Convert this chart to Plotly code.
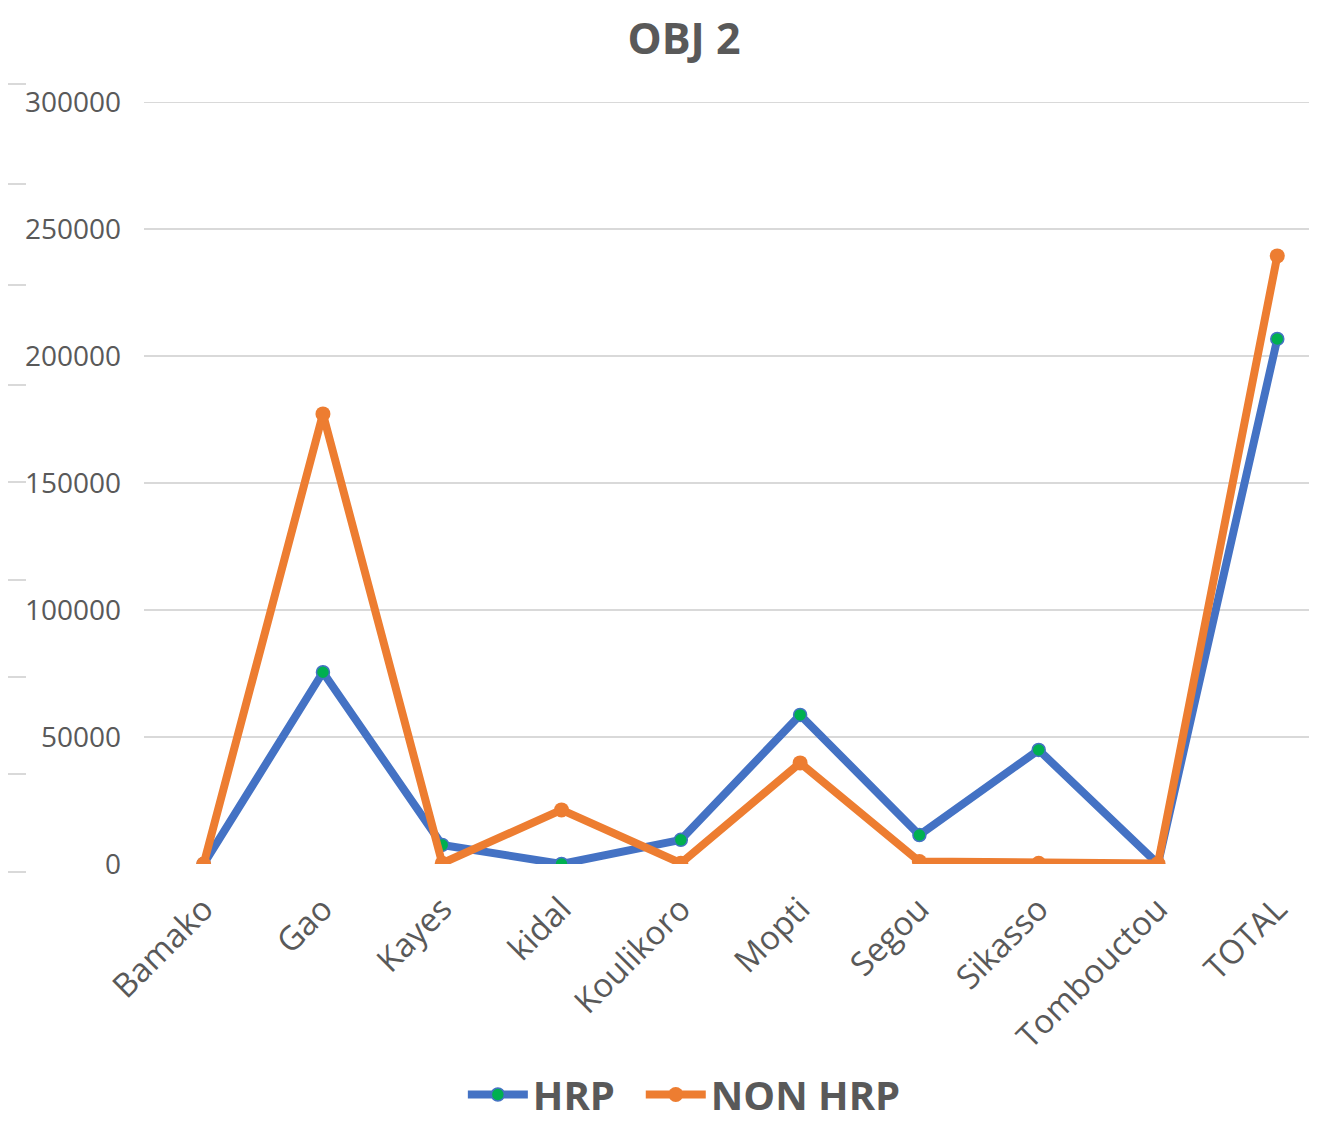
import plotly.graph_objects as go

# --- data ---
regions = ["Bamako", "Gao", "Kayes", "kidal", "Koulikoro", "Mopti",
           "Segou", "Sikasso", "Tombouctou", "TOTAL"]
hrp = [0, 75500, 7500, 0, 9500, 58700, 11400, 44900, 0, 206700]
non_hrp = [0, 177200, 300, 21300, 300, 39800, 1000, 300, 200, 239400]
y_ticks = [0, 50000, 100000, 150000, 200000, 250000, 300000]

BLUE = "#4472C4"
ORANGE = "#ED7D31"
GREEN = "#00B050"
GREY_TXT = "#595959"
GRID = "#d9d9d9"
FONT = "Open Sans"

# page body has an 8px margin, so the figure is offset by 8px
W, H = 1309, 1119
L, T, B = 136, 94, 263
plot_w, plot_h = W - L, H - T - B

x = list(range(len(regions)))
fig = go.Figure()
fig.add_trace(go.Scatter(
    x=x, y=hrp, name="<b>HRP</b>&nbsp;&nbsp;", mode="lines+markers",
    line=dict(color=BLUE, width=8),
    marker=dict(color=GREEN, size=13, line=dict(color=BLUE, width=1.5)),
))
fig.add_trace(go.Scatter(
    x=x, y=non_hrp, name="<b>NON HRP</b>", mode="lines+markers",
    line=dict(color=ORANGE, width=8),
    marker=dict(color=ORANGE, size=15),
))

# faint dashes along the left edge (screenshot artefacts in the original)
left_dash_y = [76, 176, 277, 377, 474, 572, 669, 766, 864]
shapes = []
for py in left_dash_y:
    yy = (H - B - py) / plot_h
    shapes.append(dict(type="line", xref="paper", yref="paper",
                       x0=-L / plot_w, x1=(18 - L) / plot_w, y0=yy, y1=yy,
                       line=dict(color=GRID, width=2)))
# top gridline (plotly drops the grid at the range edge)
shapes.append(dict(type="line", xref="paper", yref="y", x0=0, x1=1,
                   y0=y_ticks[-1], y1=y_ticks[-1], layer="below",
                   line=dict(color=GRID, width=2)))

fig.update_layout(
    width=W, height=H,
    margin=dict(l=L, r=0, t=T, b=B),
    paper_bgcolor="white", plot_bgcolor="white",
    font=dict(family=FONT, color=GREY_TXT, size=28),
    title=dict(text="<b>OBJ 2</b>", x=676 / W, xanchor="center",
               yref="container", y=1 - 31 / H, yanchor="middle",
               font=dict(size=43, color=GREY_TXT)),
    showlegend=True,
    legend=dict(orientation="h", x=603 / W, xanchor="center",
                yref="container", y=0, yanchor="bottom",
                font=dict(size=40, color=GREY_TXT), itemwidth=60,
                traceorder="normal"),
    shapes=shapes,
)
fig.update_xaxes(
    tickmode="array", tickvals=x, ticktext=regions,
    range=[-0.5, 9.333], tickangle=-45, showgrid=False, zeroline=False,
    showline=False, ticks="", ticklabelstandoff=18,
    tickfont=dict(size=33, color=GREY_TXT),
)
fig.update_yaxes(
    range=[0, 300000], tickvals=y_ticks,
    showgrid=True, gridcolor=GRID, gridwidth=2, zeroline=False,
    showline=False, ticks="", ticklabelstandoff=22, tickformat="d",
    tickfont=dict(size=28, color=GREY_TXT),
)

fig.write_html("out.html")
